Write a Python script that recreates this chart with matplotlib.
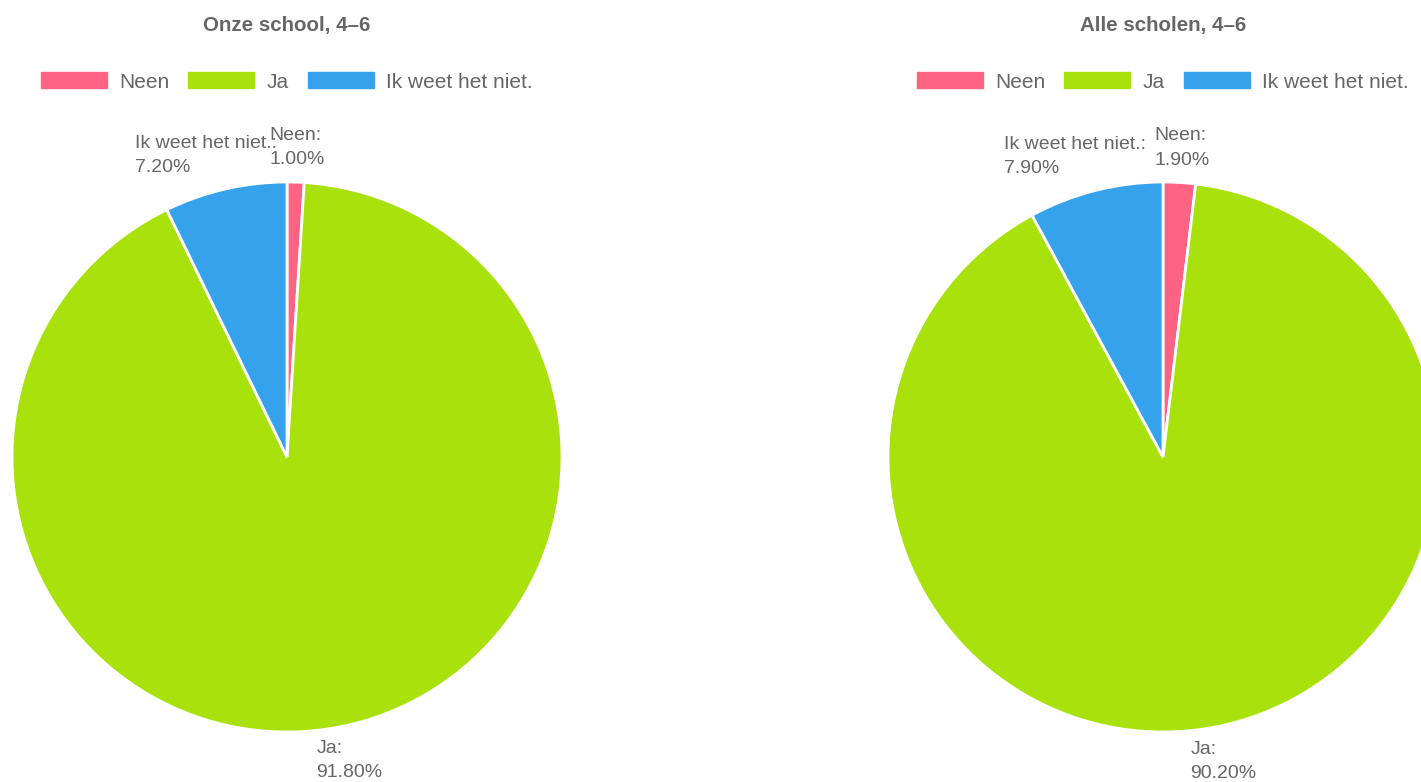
import numpy as np
import matplotlib
matplotlib.use("Agg")
import matplotlib.pyplot as plt
from matplotlib.patches import Patch
from matplotlib.transforms import offset_copy

plt.rcParams["font.family"] = ["Liberation Sans", "DejaVu Sans"]

# data
categories = ["Neen", "Ja", "Ik weet het niet."]
titles = ["Onze school, 4\u20136", "Alle scholen, 4\u20136"]
onze_school = [1.0, 91.8, 7.2]
alle_scholen = [1.9, 90.2, 7.9]
colors = ["#ff6384", "#a8e10c", "#36a2eb"]
TEXT = "#666666"

W, H = 1421, 782
fig = plt.figure(figsize=(W / 100, H / 100), dpi=100)

# pie boxes in pixels: left, top, size
boxes = [(12, 182, 550), (888, 182, 550)]


def draw_pie(box, title, values):
    left, top, size = box
    ax = fig.add_axes([left / W, (H - top - size) / H, size / W, size / H])
    ax.pie(values, colors=colors, startangle=90, counterclock=False, radius=1,
           wedgeprops=dict(edgecolor="white", linewidth=2))
    ax.set_xlim(-1, 1)
    ax.set_ylim(-1, 1)
    ax.axis("off")

    cx = (left + size / 2) / W
    fig.text(cx, 1 - 25 / H, title, ha="center", va="center", fontsize=14.8,
             fontweight="bold", color=TEXT)
    handles = [Patch(facecolor=c, edgecolor=c) for c in colors]
    fig.legend(handles, categories, loc="center", bbox_to_anchor=(cx, 1 - 82 / H),
               ncol=3, frameon=False, fontsize=15, handlelength=3.15,
               handleheight=0.8, handletextpad=0.62, columnspacing=0.9,
               labelcolor=TEXT)

    # labels sit just outside the rim, pushed out along the slice's mid angle
    total = sum(values)
    start = 90.0
    for cat, v in zip(categories, values):
        span = 360.0 * v / total
        mid = np.deg2rad(start - span / 2)
        start -= span
        x, y = np.cos(mid), np.sin(mid)
        t = ax.text(x, y, f"{cat}:\n{v:.2f}%", ha="center", va="center",
                    multialignment="left", fontsize=14, color=TEXT,
                    linespacing=1.55, clip_on=False)
        fig.canvas.draw()
        bb = t.get_window_extent()
        pad = 14
        dx = x * (bb.width / 2 + pad)
        dy = y * (bb.height / 2 + pad)
        t.set_transform(offset_copy(ax.transData, fig=fig, x=dx, y=dy, units="dots"))


draw_pie(boxes[0], titles[0], onze_school)
draw_pie(boxes[1], titles[1], alle_scholen)

fig.savefig("out.png", dpi=100, facecolor="white")
